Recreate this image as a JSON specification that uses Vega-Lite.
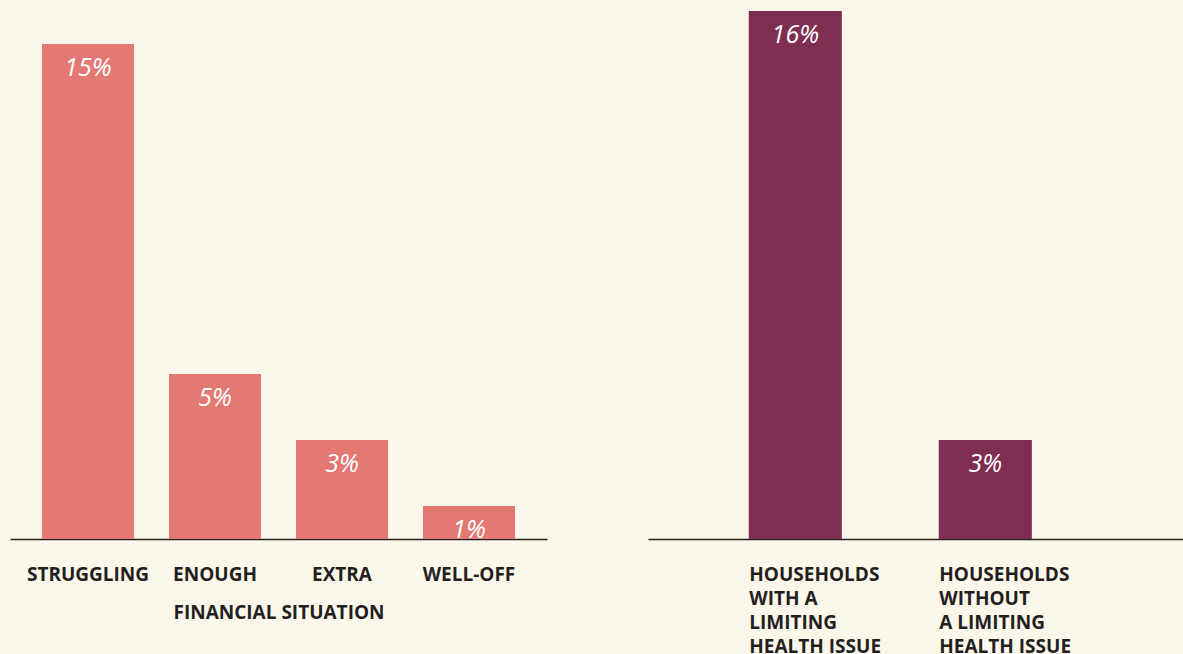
{
  "$schema": "https://vega.github.io/schema/vega-lite/v6.json",
  "background": "#FCF7EB",
  "padding": {"left": 10, "top": 0, "right": 0, "bottom": 0},
  "spacing": 101,
  "config": {
    "view": {"stroke": null},
    "axis": {"labelFont": "Open Sans", "labelFontWeight": "bold", "labelFontSize": 19, "labelColor": "#231F20", "titleFont": "Open Sans", "titleFontWeight": "bold", "titleFontSize": 19, "titleColor": "#231F20"}
  },
  "datasets": {
    "finance": [
      {"situation": "STRUGGLING", "pct": 0.15},
      {"situation": "ENOUGH", "pct": 0.05},
      {"situation": "EXTRA", "pct": 0.03},
      {"situation": "WELL-OFF", "pct": 0.01}
    ],
    "health": [
      {"household": "HOUSEHOLDS|WITH A|LIMITING|HEALTH ISSUE", "pct": 0.16},
      {"household": "HOUSEHOLDS|WITHOUT|A LIMITING|HEALTH ISSUE", "pct": 0.03}
    ]
  },
  "hconcat": [
    {
      "width": 537,
      "height": 539,
      "data": {"name": "finance"},
      "encoding": {
        "x": {"field": "situation", "type": "nominal", "sort": null, "title": "FINANCIAL SITUATION",
          "scale": {"paddingInner": 0.2756, "paddingOuter": 0.252},
          "axis": {"labelAngle": 0, "ticks": false, "tickSize": 0, "labelPadding": 26, "titlePadding": 19, "domainColor": "#231F20", "domainWidth": 1.5, "labelOverlap": false}},
        "y": {"field": "pct", "type": "quantitative", "scale": {"domain": [0, 0.1633], "nice": false}, "axis": null}
      },
      "layer": [
        {"mark": {"type": "bar", "color": "#E47872"}},
        {"mark": {"type": "text", "color": "white", "font": "Open Sans", "fontStyle": "italic", "fontWeight": 400, "fontSize": 25, "baseline": "middle", "dy": 24},
          "encoding": {"text": {"field": "pct", "type": "quantitative", "format": ".0%"}}}
      ]
    },
    {
      "width": 535,
      "height": 539,
      "data": {"name": "health"},
      "encoding": {
        "x": {"field": "household", "type": "nominal", "sort": null, "title": null,
          "scale": {"paddingInner": 0.51, "paddingOuter": 0.663, "align": 0.4},
          "axis": {"labelAngle": 0, "ticks": false, "tickSize": 0, "labelPadding": 26, "labelAlign": "left", "labelOffset": -46, "labelLineHeight": 24, "labelExpr": "split(datum.label, '|')", "domainColor": "#231F20", "domainWidth": 1.5, "labelOverlap": false, "labelBound": false, "labelFlush": false, "labelLimit": 0}},
        "y": {"field": "pct", "type": "quantitative", "scale": {"domain": [0, 0.1633], "nice": false}, "axis": null}
      },
      "layer": [
        {"mark": {"type": "bar", "color": "#7F2E52"}},
        {"mark": {"type": "text", "color": "white", "font": "Open Sans", "fontStyle": "italic", "fontWeight": 400, "fontSize": 25, "baseline": "middle", "dy": 24},
          "encoding": {"text": {"field": "pct", "type": "quantitative", "format": ".0%"}}}
      ]
    }
  ]
}
